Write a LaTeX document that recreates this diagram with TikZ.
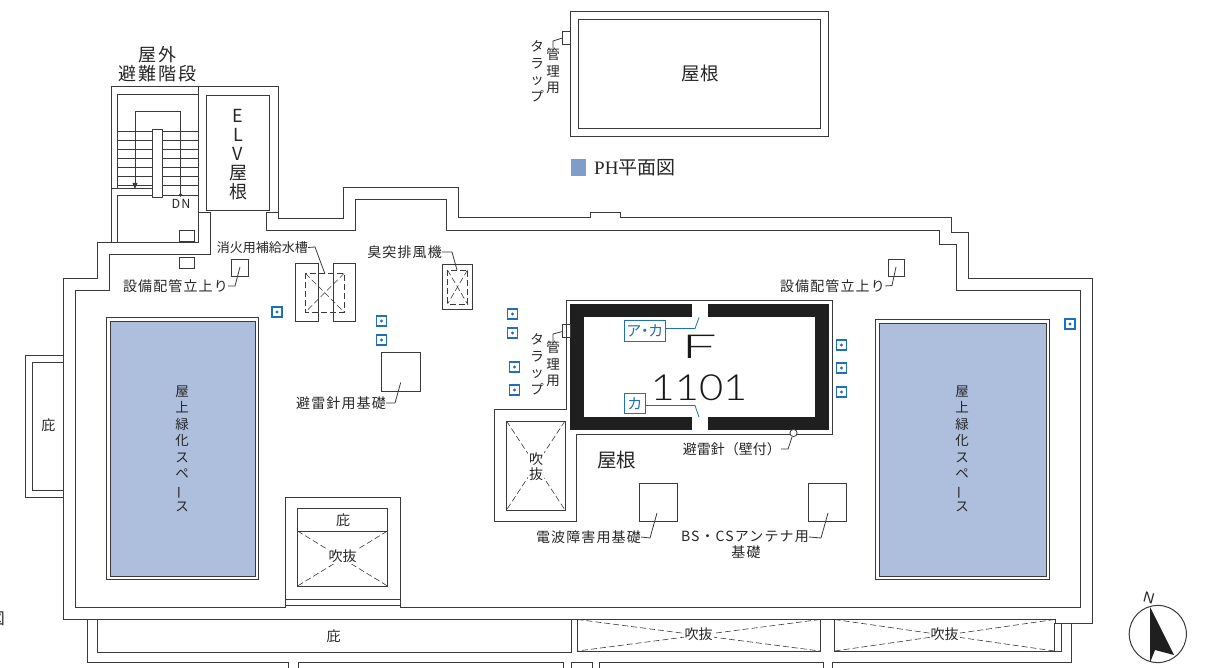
\documentclass[tikz,border=0pt]{standalone}
\usepackage{fontspec}
\setmainfont{Noto Sans CJK JP}
\newfontfamily\lblfont[LetterSpace=8]{Noto Sans CJK JP}
\newfontfamily\bigfont[LetterSpace=12]{Noto Sans CJK JP}
\newfontfamily\serifplain{Liberation Serif}
\newfontfamily\digitfont{Liberation Sans}
\newfontfamily\lightfont{Lato Light}
\usetikzlibrary{calc}
\definecolor{wallc}{HTML}{3A3A3A}
\definecolor{greenc}{HTML}{AEBFDD}
\definecolor{legendc}{HTML}{7F9DCB}
\definecolor{markc}{HTML}{1F70B5}
\newcommand{\vbar}{\rotatebox[origin=c]{90}{ー}}
\tikzset{
	wall/.style={draw=wallc, line width=1pt},
	thinwall/.style={draw=wallc, line width=0.8pt},
	leader/.style={draw=wallc, line width=0.8pt},
	vent/.style={draw=wallc, line width=0.6pt, dash pattern=on 6pt off 3pt},
	lbl/.style={inner sep=0pt, text=black!85, font=\lblfont\fontsize{14}{16.5}\selectfont, align=center},
	stacklbl/.style={inner sep=0pt, text=black!85, font=\fontsize{13.5}{16.5}\selectfont, align=center},
	biglbl/.style={inner sep=0pt, text=black!85, font=\fontsize{18.5}{19}\selectfont, align=center},
	ventlbl/.style={inner sep=1pt, fill=white, text=black!85, font=\fontsize{14}{15}\selectfont, align=center},
	taglbl/.style={draw=markc, line width=0.9pt, text=markc, inner sep=0pt, font=\fontsize{15}{15}\selectfont},
	taglead/.style={draw=markc, line width=0.8pt},
}
\begin{document}
\begin{tikzpicture}[x=1pt, y=-1pt]
	\useasboundingbox (0,0) rectangle (1208,668);

	% penthouse roof
	\draw[wall] (570.5,11.5) rectangle (828.5,136.5);
	\draw[wall] (578.5,19.5) rectangle (820,128.5);
	\node[biglbl] (roofpn) at (700,74) {屋根};
	\draw[thinwall] (562.5,31.5) rectangle (570.5,44.5);
	\coordinate (trapa) at (562.5,38);
	\node[stacklbl] (mgmta) at (553,71) {管\\理\\用};
	\node[stacklbl] (trapla) at (537,71) {タ\\ラ\\ッ\\プ};
	\draw[leader] (trapa) -- (553,41) -- (mgmta.north);
	\fill[legendc] (570.5,159.5) rectangle (586,176);
	\node[anchor=west, inner sep=0pt, text=black!85, font=\fontsize{19}{20}\selectfont] (legend) at (594,168) {{\serifplain PH}平面図};

	% outer line of the roof
	\draw[wall] (111,243) -- (111,87) -- (278,87) -- (278,218.5) -- (343.5,218.5) -- (343.5,188) -- (458,188) -- (458,218) -- (590,218) -- (590,213) -- (620,213) -- (620,218) -- (951,218) -- (951,233) -- (968,233) -- (968,279) -- (1092,279) -- (1092,623) -- (1055,623) -- (1055,619) -- (63,619) -- (63,279) -- (97,279) -- (97,243) -- (198,243) -- (198,87);
	% inner line of the roof
	\draw[wall] (210,212) -- (210,255) -- (109,255) -- (109,291) -- (75,291) -- (75,607) -- (285,607) -- (285,605) -- (400,605) -- (400,607) -- (1080,607) -- (1080,291) -- (956,291) -- (956,245) -- (939,245) -- (939,230.5) -- (446,230.5) -- (446,200) -- (355.5,200) -- (355.5,230.5) -- (266,230.5) -- (266,212);
	\draw[wall] (198,213) -- (210,213);
	\draw[wall] (266,213) -- (278,213);

	% stairs
	\draw[thinwall] (111,188) -- (152,188);
	\draw[thinwall] (117.5,188) -- (117.5,94) -- (198,94);
	\draw[thinwall] (117.5,243) -- (117.5,195) -- (198,195);
	\foreach \y in {131,140,149,158.3,167.3,176.6,185.6}
		\draw[thinwall] (117.5,\y) -- (198,\y);
	\draw[thinwall] (135,186) -- (135,111.5) -- (180.5,111.5) -- (180.5,195);
	\fill[wallc] (180.5,195) circle (1.8);
	\fill[wallc] (132.5,183) -- (137.5,183) -- (135,189) -- cycle;
	\draw[wall, fill=white] (152.5,129.5) rectangle (162.5,197.5);
	\node[lbl] (dn) at (181,203.5) {\fontsize{12.5}{12.5}\selectfont DN};
	\draw[thinwall] (179,230) rectangle (194.5,241.5);
	\draw[thinwall] (179,257) rectangle (194.5,268.5);
	\node[biglbl, font=\bigfont\fontsize{18}{19}\selectfont] (stairlbl) at (157.5,64.5) {屋外\\避難階段};

	% elevator
	\draw[wall] (206.5,96) rectangle (269.5,211);
	\node[biglbl, font=\fontsize{18}{19}\selectfont] (elv) at (238,155) {E\\L\\V\\屋\\根};

	% equipment
	\draw[thinwall] (231.5,259) rectangle (248,276);
	\coordinate (pipea) at (240,267);
	\node[lbl, anchor=east] (pipelbla) at (228,286) {設備配管立上り};
	\draw[leader] (pipelbla.east) -- (235,286) -- (pipea);
	\node[lbl, font=\fontsize{13}{15}\selectfont, anchor=east] (tanklbl) at (308,247.5) {消火用補給水槽};
	\draw[wall] (295,264) rectangle (318,322);
	\draw[wall] (333,264) rectangle (355.5,322);
	\draw[vent] (305.5,273.5) rectangle (344,312);
	\draw[vent] (305.5,273.5) -- (344,312);
	\draw[vent] (344,273.5) -- (305.5,312);
	\draw[leader] (tanklbl.east) -- (315,247) -- (325,274);
	\node[lbl, anchor=east] (fanlbl) at (442,252) {臭突排風機};
	\draw[wall] (442,264.5) rectangle (472.5,310);
	\draw[vent] (447.5,270) rectangle (467.5,304);
	\draw[vent] (447.5,270) -- (467.5,304);
	\draw[vent] (467.5,270) -- (447.5,304);
	\draw[leader] (fanlbl.east) -- (452,252) -- (457,270);
	\draw[thinwall] (888,259) rectangle (904,276);
	\coordinate (pipeb) at (896,267);
	\node[lbl, anchor=east] (pipelblb) at (885,286) {設備配管立上り};
	\draw[leader] (pipelblb.east) -- (892,285.5) -- (pipeb);

	% markers
	\foreach \x/\y in {277/312, 381.5/321, 381.5/340, 512.5/314, 512.5/333, 514.5/367, 514.5/390, 841.5/345, 841.5/368, 841.5/392, 1070/324} {
		\draw[markc, line width=1.2pt] (\x-5,\y-5) rectangle (\x+5,\y+5);
		\fill[markc] (\x,\y) circle (1.6);
	}

	% core
	\draw[thinwall] (566,409.5) -- (566,300) -- (832.5,300) -- (832.5,434) -- (576,434) -- (576,521.5) -- (494.5,521.5) -- (494.5,409.5) -- cycle;
	\fill[black!88] (570,304) rectangle (828.5,430);
	\fill[white] (584,317.5) rectangle (815,416.5);
	\fill[white] (691.5,304) rectangle (707.5,317.5);
	\fill[white] (691.5,416.5) rectangle (707.5,430);
	\draw[thinwall] (562.5,324.5) rectangle (570,337.5);
	\coordinate (trapb) at (562.5,331.5);
	\node[stacklbl] (mgmtb) at (553,364) {管\\理\\用};
	\node[stacklbl] (traplb) at (537,364) {タ\\ラ\\ッ\\プ};
	\draw[leader] (trapb) -- (553,334) -- (mgmtb.north);
	\node[inner sep=0pt, xscale=1.9, transform shape, font=\lightfont\fontsize{33}{33}\selectfont, text=black!90] (floorf) at (699,347) {F};
	\node[inner sep=0pt, xscale=1.16, transform shape, font=\lightfont\fontsize{36}{36}\selectfont, text=black!90] (floorno) at (699,388) {1101};
	\node[taglbl, minimum width=40.5pt, minimum height=20.5pt] (tagac) at (644.75,330.75) {ア\kern-4pt・\kern-4pt カ};
	\node[taglbl, minimum width=20.5pt, minimum height=20pt] (tagk) at (634.75,403.5) {カ};
	\draw[taglead] (tagac.east |- 0,328.5) -- (695,328.5) -- (699,317.5);
	\draw[taglead] (tagk.east |- 0,405.5) -- (695,405.5) -- (699,417);

	% rod
	\node[lbl, font=\fontsize{14}{15}\selectfont, anchor=east] (rodlbl) at (781,449) {避雷針（壁付）};
	\draw[leader] (rodlbl.east) -- (788,449) -- (792,437);
	\draw[thinwall, fill=white] (793.5,433) circle (3.6);

	% vent in the core
	\draw[wall] (506.5,421) rectangle (565,510);
	\draw[vent] (506.5,421) -- (565,510);
	\draw[vent] (565,421) -- (506.5,510);
	\node[ventlbl] (ventlbla) at (536,466.5) {吹\\抜};
	\node[biglbl, font=\fontsize{19.5}{20}\selectfont] (rooflbl) at (616.5,460) {屋根};

	% foundations
	\draw[thinwall] (381.5,352.5) rectangle (420,391);
	\coordinate (basea) at (400.7,382.5);
	\node[lbl, anchor=east] (basealbl) at (386,403) {避雷針用基礎};
	\draw[leader] (basealbl.east) -- (395,403) -- (basea);
	\draw[thinwall] (639,483.5) rectangle (677,521.5);
	\coordinate (baseb) at (657,513);
	\node[lbl, anchor=east] (baseblbl) at (641,537) {電波障害用基礎};
	\draw[leader] (baseblbl.east) -- (650,538) -- (baseb);
	\draw[thinwall] (808.5,483.5) rectangle (846.5,521.5);
	\coordinate (basec) at (828,513);
	\node[lbl, anchor=east] (baseclbl) at (809,537) {BS・CSアンテナ用};
	\node[lbl] (baseclblb) at (746,552) {基礎};
	\draw[leader] (baseclbl.east) -- (821,538) -- (basec);

	% green spaces
	\foreach \nm/\xa/\xb/\xc/\xd/\yt/\ybt/\cx in {l/106.5/110/255/258.5/318/322/182, r/875/879/1046/1049.5/320/323.5/962} {
		\draw[wall] (\xa,\yt) rectangle (\xd,579.5);
		\draw[wall, fill=greenc] (\xb,\ybt) rectangle (\xc,576);
		\node[lbl, font=\fontsize{13.5}{16.5}\selectfont] (green\nm) at (\cx,449) {屋\\上\\緑\\化\\ス\\ペ\\\vbar\\ス};
	}

	% left canopy
	\draw[wall] (64,355.5) -- (25.5,355.5) -- (25.5,497) -- (64,497);
	\draw[wall] (64,362.5) -- (32.5,362.5) -- (32.5,490.5) -- (64,490.5);
	\node[lbl] (canopyl) at (48,425) {\kern1pt 庇};

	% canopy and vent on the south side
	\draw[wall] (285,605) -- (285,497) -- (400,497) -- (400,605);
	\draw[wall] (285,599.5) -- (400,599.5);
	\draw[wall] (297.5,508.5) rectangle (387.5,586);
	\draw[wall] (297.5,531) -- (387.5,531);
	\draw[vent] (297.5,531) -- (387.5,586);
	\draw[vent] (387.5,531) -- (297.5,586);
	\node[lbl] (canopyc) at (342.5,520) {\kern1pt 庇};
	\node[ventlbl] (ventlblb) at (342.5,556.5) {吹抜};

	% lower canopy
	\draw[wall] (87.5,619) -- (87.5,662.5) -- (288.5,662.5) -- (288.5,668);
	\draw[wall] (298,668) -- (298,662.5) -- (563,662.5) -- (563,668);
	\draw[wall] (571,668) -- (571,662.5) -- (592,662.5) -- (592,668);
	\draw[wall] (599,668) -- (599,662.5) -- (823,662.5) -- (823,668);
	\draw[wall] (832.5,668) -- (832.5,662.5) -- (1071.5,662.5) -- (1071.5,623);
	\draw[wall] (97,619) -- (97,652.5) -- (571,652.5) -- (571,619);
	\node[lbl] (canopyb) at (333,636) {\kern1pt 庇};
	\draw[wall] (577.5,619) -- (577.5,651) -- (820,651) -- (820,619);
	\draw[wall] (834.5,619) -- (834.5,651) -- (1061,651) -- (1061,623);
	\draw[wall] (1054.5,623) -- (1054.5,651);
	\foreach \xa/\xb/\xm/\nm in {577.5/820/698.5/a, 834.5/1054.5/944.5/b} {
		\draw[vent] (\xa,619.5) -- (\xb,651);
		\draw[vent] (\xb,619.5) -- (\xa,651);
		\node[ventlbl] (ventlbl\nm) at (\xm,634.5) {吹抜};
	}

	% cut off text at the page edge
	\node[lbl, font=\fontsize{16}{16}\selectfont] (cutoff) at (-3,619) {図};

	% north
	\draw[wall] (1157.8,634) circle (28.6);
	\fill[black!88] (1150,607) -- (1174,655) -- (1155,650) -- (1150,662.5) -- cycle;
	\node[inner sep=0pt, rotate=-15, font=\digitfont\fontsize{15}{15}\selectfont, text=black!85] (north) at (1149,598) {N};
\end{tikzpicture}
\end{document}
